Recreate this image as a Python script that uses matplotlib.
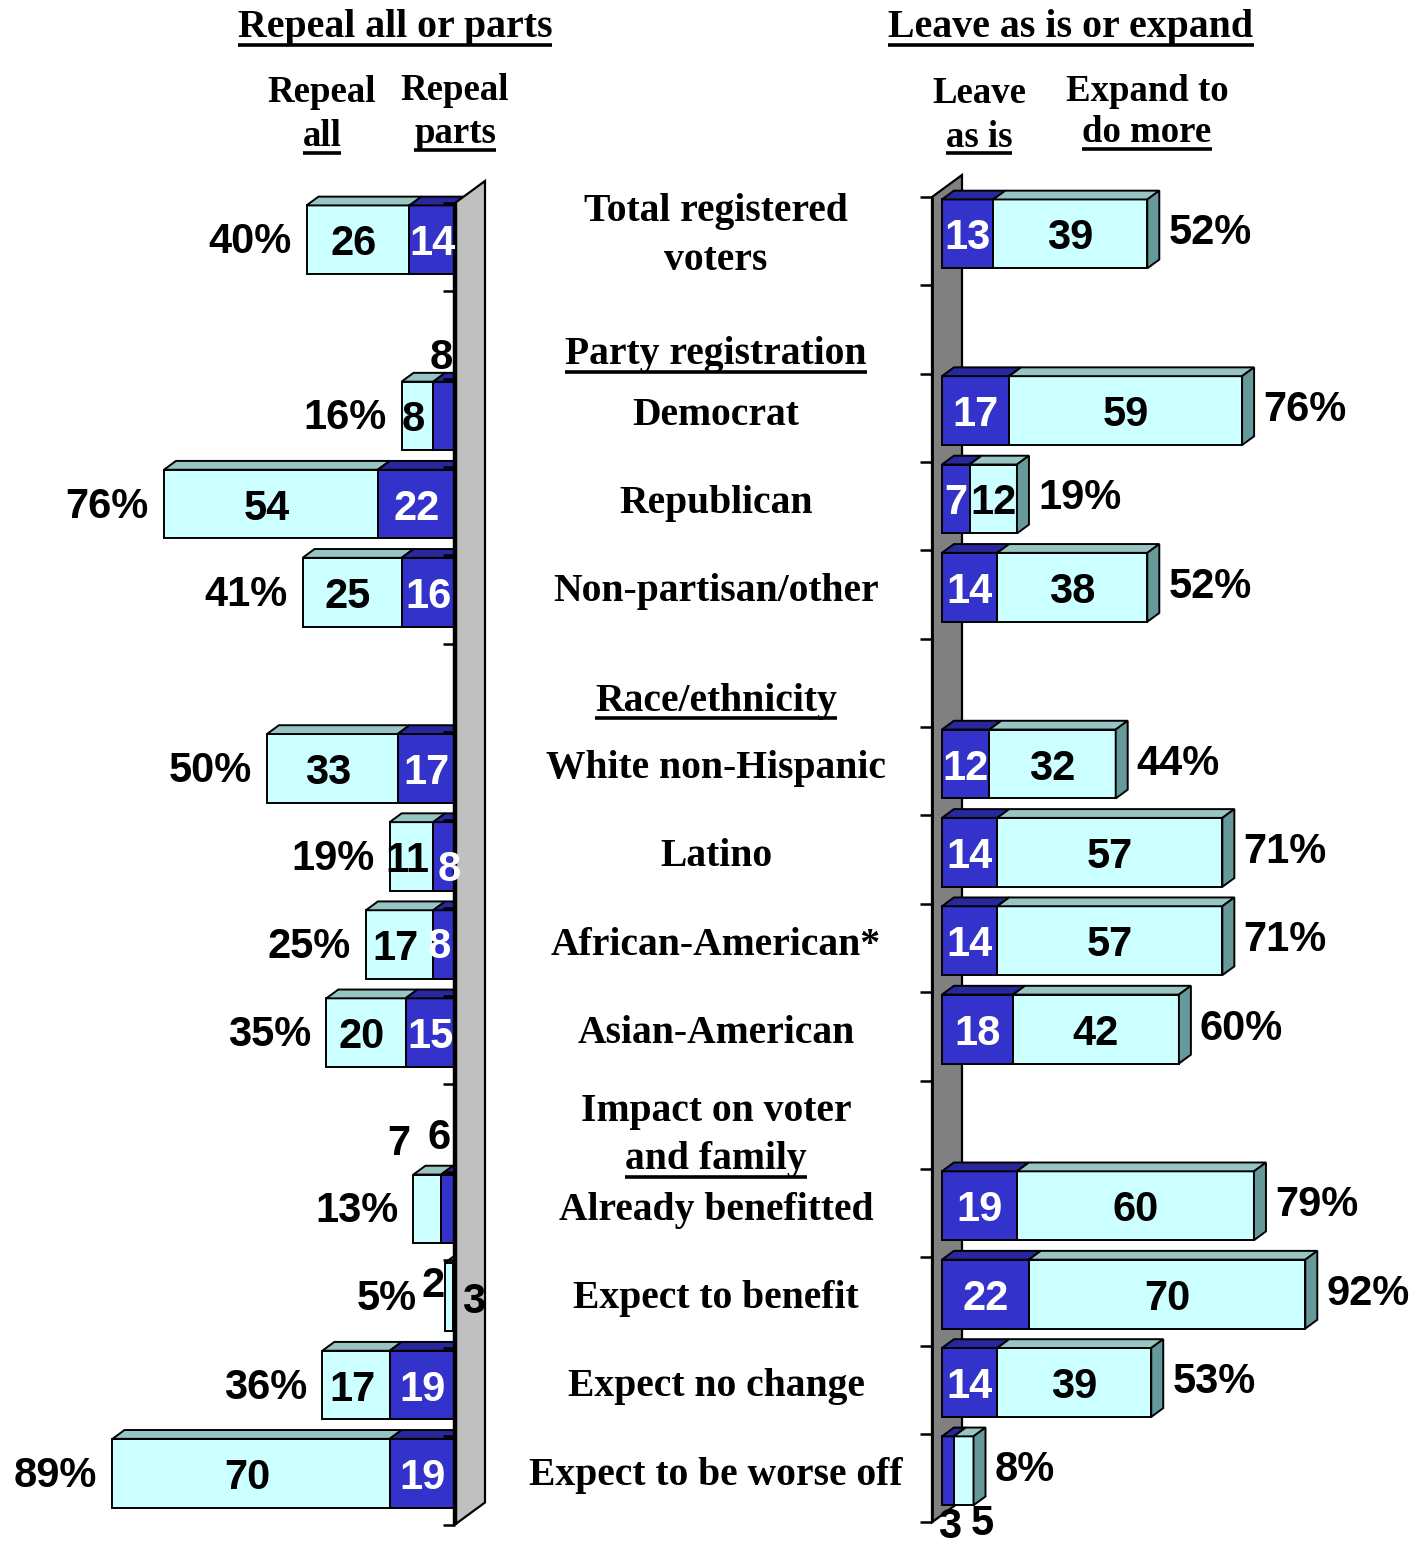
import matplotlib
matplotlib.use('Agg')
import matplotlib.pyplot as plt
from matplotlib.patches import Polygon
from matplotlib.lines import Line2D
from matplotlib import transforms

W, H, DPI = 1424, 1546, 100

# survey results, percent of registered voters
categories = ['Total registered\nvoters', 'Democrat', 'Republican', 'Non-partisan/other',
              'White non-Hispanic', 'Latino', 'African-American*', 'Asian-American',
              'Already benefitted', 'Expect to benefit', 'Expect no change',
              'Expect to be worse off']
cat_slots = [0, 2, 3, 4, 6, 7, 8, 9, 11, 12, 13, 14]
repeal_all = [26, 8, 54, 25, 33, 11, 17, 20, 7, 2, 17, 70]
repeal_parts = [14, 8, 22, 16, 17, 8, 8, 15, 6, 3, 19, 19]
leave_as_is = [13, 17, 7, 14, 12, 14, 14, 18, 19, 22, 14, 3]
expand_more = [39, 59, 12, 38, 32, 57, 57, 42, 60, 70, 39, 5]
sections = ['Party registration', 'Race/ethnicity', 'Impact on voter\nand family']
section_slots = [1, 5, 10]
N_SLOTS = 15

CYAN, CYAN_TOP, CYAN_SIDE = '#CCFFFF', '#99C4C4', '#669999'
BLUE, BLUE_TOP = '#3333CC', '#28289C'
SANS = 'Liberation Sans'
SERIF = 'Liberation Serif'
NUM_SIZE = 30
CAT_SIZE = 28.5
HEAD_SIZE = 28.7
SUB_SIZE = 26.5

WALL_DX, WALL_DY = 30, -22    # depth of the 3-D box, pixels
BAR_F0, BAR_F1 = 0.33, 0.73   # bar depth span, fraction of the box
BAR_H = 0.78                  # bar thickness in category slots

# labels that don't fit inside their bar: (panel, series, row) -> pixel nudge
seg_nudge = {
    ('L', 1, 1): (-3, -62, 'black'),
    ('L', 1, 5): (5, 9, 'white'),
    ('L', 1, 6): (-5, -2, 'white'),
    ('L', 0, 8): (-28, -69, 'black'),
    ('L', 1, 8): (-9, -75, 'black'),
    ('L', 0, 9): (-16, -15, 'black'),
    ('L', 1, 9): (20, 1, 'black'),
    ('R', 0, 11): (2, 52, 'black'),
    ('R', 1, 11): (19, 49, 'black'),
}
pct_nudge = {('L', 9): -13}

fig = plt.figure(figsize=(W / DPI, H / DPI), dpi=DPI)


class Panel:
    def __init__(self, name, zero_px, ppu, top_px, pps, sign):
        self.name = name
        self.ax = fig.add_axes([0, 0, 1, 1])
        self.ax.set_axis_off()
        self.ax.patch.set_alpha(0)
        self.ppu = ppu * sign
        self.pps = pps
        self.ax.set_xlim(-zero_px / self.ppu, (W - zero_px) / self.ppu)
        self.ax.set_ylim((H - top_px) / pps, -top_px / pps)

    def off(self, dx, dy):
        return dx / self.ppu, dy / self.pps

    def front(self):
        return self.off(WALL_DX * BAR_F0, WALL_DY * BAR_F0)

    def wall(self, color, front_lw, z):
        ax = self.ax
        wx, wy = self.off(WALL_DX, WALL_DY)
        pts = [(0, 0), (wx, wy), (wx, N_SLOTS + wy), (0, N_SLOTS)]
        ax.add_patch(Polygon(pts, closed=True, facecolor=color, edgecolor='black',
                             lw=1.6, zorder=z))
        ax.plot([0, 0], [0, N_SLOTS], color='black', lw=front_lw, zorder=z + 0.1,
                solid_capstyle='butt')
        tx, _ = self.off(-12, 0)
        for s in range(N_SLOTS + 1):
            ax.plot([0, tx], [s, s], color='black', lw=1.8, zorder=z + 0.1,
                    solid_capstyle='butt')

    def segment(self, k, v0, v1, face, top, side=None):
        fx, fy = self.front()
        bx, by = self.off(WALL_DX * (BAR_F1 - BAR_F0), WALL_DY * (BAR_F1 - BAR_F0))
        c = k + 0.5 + fy
        t, b = c - BAR_H / 2, c + BAR_H / 2
        a0, a1 = v0 + fx, v1 + fx
        faces = [([(a0, t), (a1, t), (a1, b), (a0, b)], face),
                 ([(a0, t), (a1, t), (a1 + bx, t + by), (a0 + bx, t + by)], top)]
        if side:
            faces.append(([(a1, t), (a1 + bx, t + by), (a1 + bx, b + by), (a1, b)], side))
        for pts, col in faces:
            self.ax.add_patch(Polygon(pts, closed=True, facecolor=col, edgecolor='black',
                                      lw=1.4, joinstyle='miter', zorder=3))

    def text(self, k, v, s, color='black', dx=0, dy=0, ha='center'):
        fx, fy = self.front()
        ox, oy = self.off(dx, dy)
        self.ax.text(v + fx + ox, k + 0.5 + fy + oy, s, color=color, ha=ha,
                     va='center_baseline', family=SANS, weight='bold',
                     fontsize=NUM_SIZE, zorder=10)


left = Panel('L', 455, 3.96, 203, 88.1, -1)
right = Panel('R', 932, 3.95, 197, 88.35, 1)

right.wall('#808080', 2.0, 1)
left.wall('#C0C0C0', 3.2, 6)

# left side: repeal parts next to the wall, repeal all beyond it
for i, k in enumerate(cat_slots):
    parts, whole = repeal_parts[i], repeal_all[i]
    total = parts + whole
    left.segment(k, parts, total, CYAN, CYAN_TOP)
    left.segment(k, 0, parts, BLUE, BLUE_TOP)
    fx, _ = left.front()
    for j, (v0, v1, val, col) in enumerate([(parts, total, whole, 'black'),
                                            (0, parts, parts, 'white')]):
        a0, a1 = v0 + fx, v1 + fx
        if j == 1:
            a0 = max(a0, 0)  # part of the segment is hidden behind the wall
        mid = (a0 + a1) / 2 - fx
        dx, dy, c = seg_nudge.get(('L', j, i), (-4 if j == 0 else 0, 0, col))
        left.text(k, mid, str(val), c, dx, dy)
    left.text(k, total, f'{total}%', dx=-15 + pct_nudge.get(('L', i), 0), dy=-2, ha='right')

# right side: leave as is next to the wall, expand beyond it
for i, k in enumerate(cat_slots):
    stay, more = leave_as_is[i], expand_more[i]
    total = stay + more
    right.segment(k, 0, stay, BLUE, BLUE_TOP)
    right.segment(k, stay, total, CYAN, CYAN_TOP, CYAN_SIDE)
    for j, (v0, v1, val, col) in enumerate([(0, stay, stay, 'white'),
                                            (stay, total, more, 'black')]):
        dx, dy, c = seg_nudge.get(('R', j, i), (0, 0, col))
        right.text(k, (v0 + v1) / 2, str(val), c, dx, dy)
    right.text(k, total, f'{total}%', dx=21, dy=-5, ha='left')

# category names between the two panels
mid_tr = transforms.blended_transform_factory(fig.transFigure, right.ax.transData)
_, fy_r = right.front()
underlined = []


def center_text(y_slot, s, dy_px=0, under=False):
    t = right.ax.text(716 / W, y_slot + dy_px / right.pps, s, transform=mid_tr,
                      ha='center', va='center_baseline', family=SERIF, weight='bold',
                      fontsize=CAT_SIZE)
    if under:
        underlined.append(t)
    return t


for name, k in zip(categories, cat_slots):
    lines = name.split('\n')
    if len(lines) == 1:
        center_text(k + 0.5 + fy_r, name)
    else:
        center_text(k + 0.5 + fy_r, lines[0], -27)
        center_text(k + 0.5 + fy_r, lines[1], 22)

section_dy = [[28], [21], [-10, 38]]
for name, k, dys in zip(sections, section_slots, section_dy):
    lines = name.split('\n')
    for n, (line, dy) in enumerate(zip(lines, dys)):
        center_text(k + 0.5 + fy_r, line, dy, under=(n == len(lines) - 1))


# column headings, baselines given in pixels from the top
def heading(x, y, s, size, under=False):
    t = fig.text(x / W, 1 - y / H, s, ha='center', va='baseline', family=SERIF,
                 weight='bold', fontsize=size)
    if under:
        underlined.append(t)


heading(395, 37, 'Repeal all or parts', HEAD_SIZE, True)
heading(1071, 37, 'Leave as is or expand', HEAD_SIZE, True)
heading(322, 102, 'Repeal', SUB_SIZE)
heading(322, 146, 'all', SUB_SIZE, True)
heading(455, 100, 'Repeal', SUB_SIZE)
heading(455, 143, 'parts', SUB_SIZE, True)
heading(979, 103, 'Leave', SUB_SIZE)
heading(979, 147, 'as is', SUB_SIZE, True)
heading(1147, 101, 'Expand to', SUB_SIZE)
heading(1147, 142, 'do more', SUB_SIZE, True)

fig.canvas.draw()
renderer = fig.canvas.get_renderer()
inv = fig.transFigure.inverted()
for t in underlined:
    bb = t.get_window_extent(renderer)
    (x0, y0), (x1, _) = inv.transform([(bb.x0, bb.y0 + 1.5), (bb.x1, bb.y0 + 1.5)])
    fig.add_artist(Line2D([x0, x1], [y0, y0], transform=fig.transFigure,
                          color='black', lw=2.6, solid_capstyle='butt'))

fig.savefig('out.png', dpi=DPI, facecolor='white')
